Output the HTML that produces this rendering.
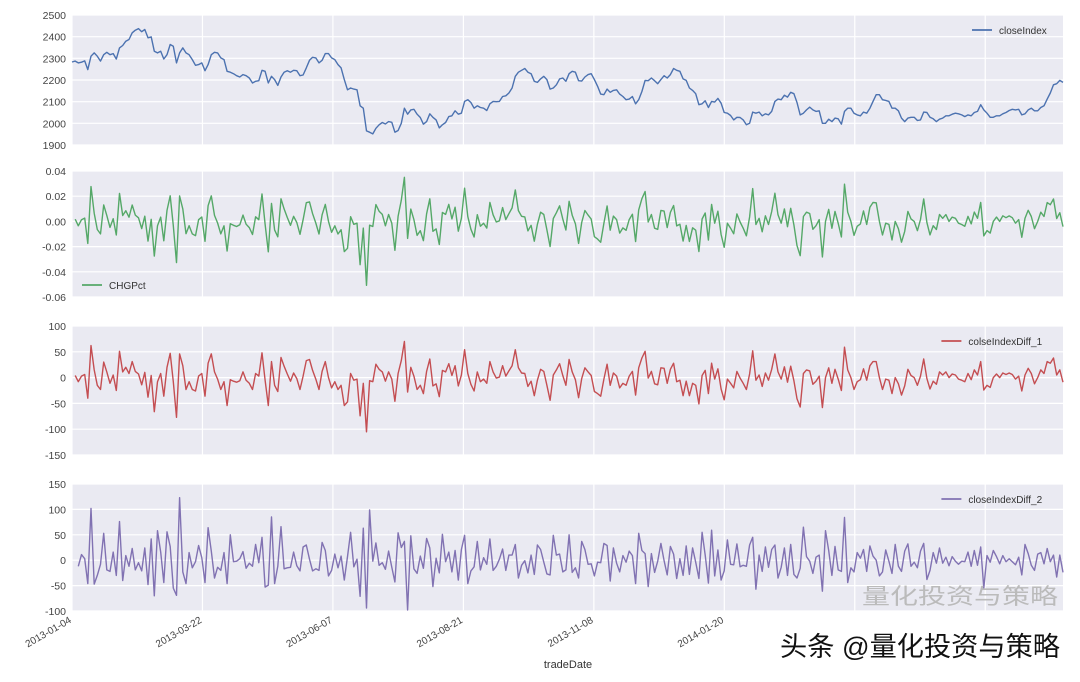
<!DOCTYPE html>
<html><head><meta charset="utf-8"><style>
body{margin:0;background:#fff;width:1080px;height:677px;overflow:hidden;font-family:"Liberation Sans","Noto Sans CJK SC",sans-serif}
svg text{font-family:"Liberation Sans","Noto Sans CJK SC",sans-serif}
</style></head><body>
<svg id="chart" width="1080" height="677" xmlns="http://www.w3.org/2000/svg"></svg>
<script>
const closeIndex=[2283,2287,2279,2282,2288,2248,2310,2325,2310,2287,2317,2328,2317,2322,2297,2348,2359,2379,2387,2418,2430,2437,2423,2433,2395,2399,2333,2325,2333,2297,2317,2364,2356,2279,2325,2348,2325,2317,2294,2268,2271,2279,2243,2271,2317,2328,2325,2302,2294,2240,2236,2229,2220,2214,2225,2220,2209,2186,2194,2197,2245,2240,2186,2217,2202,2175,2214,2236,2243,2236,2245,2243,2220,2223,2256,2291,2305,2302,2279,2291,2322,2322,2302,2294,2271,2256,2202,2155,2163,2158,2155,2081,2070,1965,1959,1951,1977,1993,2004,1997,2008,2005,1959,1967,2000,2070,2042,2062,2065,2042,2027,1996,2008,2044,2028,2016,1979,1993,2004,2031,2035,2058,2042,2047,2101,2109,2096,2070,2081,2073,2070,2059,2090,2101,2100,2101,2124,2127,2140,2163,2217,2236,2245,2253,2236,2229,2194,2189,2205,2217,2202,2158,2163,2178,2205,2209,2194,2229,2240,2236,2197,2195,2214,2225,
2229,2202,2171,2135,2132,2158,2143,2152,2155,2135,2124,2109,2112,2124,2090,2109,2147,2198,2197,2209,2197,2183,2202,2220,2209,2225,2253,2245,2240,2205,2198,2163,2152,2137,2086,2090,2104,2073,2101,2098,2115,2093,2050,2047,2036,2016,2028,2027,2016,1993,2000,2052,2047,2052,2035,2044,2039,2055,2101,2112,2109,2130,2121,2143,2137,2096,2039,2047,2062,2075,2062,2055,2058,2000,2000,2019,2008,2024,2021,1996,2055,2070,2070,2047,2039,2035,2052,2047,2070,2101,2132,2132,2109,2106,2101,2070,2070,2058,2024,2008,2024,2028,2028,2013,2016,2052,2050,2028,2021,2008,2019,2024,2035,2035,2042,2047,2044,2039,2031,2039,2035,2050,2055,2086,2062,2047,2028,2028,2035,2035,2044,2050,2059,2065,2062,2065,2039,2044,2062,2070,2058,2058,2073,2081,2112,2140,2178,2183,2198,2189];
const chgPct=closeIndex.map((v,i)=>i===0?null:(v-closeIndex[i-1])/closeIndex[i-1]);
const diff1=closeIndex.map((v,i)=>i===0?null:v-closeIndex[i-1]);
const diff2=diff1.map((v,i)=>i<2?null:v-diff1[i-1]);
const xTickLabels=["2013-01-04","2013-03-22","2013-06-07","2013-08-21","2013-11-08","2014-01-20","",""];
const xTickDays=[0,52,104,156,208,260,312,364];
const totalDays=395;
const ticks1=[1900,2000,2100,2200,2300,2400,2500];
const ticks2=[-0.06,-0.04,-0.02,0.00,0.02,0.04];
const ticks3=[-150,-100,-50,0,50,100];
const ticks4=[-100,-50,0,50,100,150];

const svg=document.getElementById('chart');
const NS='http://www.w3.org/2000/svg';
const X0=72,X1=1063;
function mk(t,a,p){const e=document.createElementNS(NS,t);for(const k in a)e.setAttribute(k,a[k]);(p||svg).appendChild(e);return e;}
function xDay(d){return X0+(d/totalDays)*(X1-X0);}
function xIdx(i){return xDay(i/(closeIndex.length-1)*totalDays);}
const panels=[
 {name:'close-index',top:15,bot:145,ticks:ticks1,data:closeIndex,color:'#4C72B0',label:'closeIndex',fmt:v=>v,legend:'tr'},
 {name:'chg-pct',top:171,bot:297,ticks:ticks2,data:chgPct,color:'#55A868',label:'CHGPct',fmt:v=>v.toFixed(2),legend:'bl'},
 {name:'close-index-diff-1',top:326,bot:455,ticks:ticks3,data:diff1,color:'#C44E52',label:'colseIndexDiff_1',fmt:v=>v,legend:'tr'},
 {name:'close-index-diff-2',top:484,bot:611,ticks:ticks4,data:diff2,color:'#8172B2',label:'closeIndexDiff_2',fmt:v=>v,legend:'tr'}
];
panels.forEach(p=>{
 const g=mk('g',{});
 
 
 const lo=p.ticks[0],hi=p.ticks[p.ticks.length-1];
 const y=v=>p.bot-(v-lo)/(hi-lo)*(p.bot-p.top);
 const bg=mk('rect',{x:X0,y:p.top,width:X1-X0,height:p.bot-p.top,fill:'#EAEAF2'},g);
 
 
 p.ticks.forEach(t=>{
  const l=mk('line',{x1:X0,x2:X1,y1:y(t),y2:y(t),stroke:'#fff','stroke-width':1.2},g);
  
  
  const tx=mk('text',{x:X0-6,y:y(t)+4,'text-anchor':'end','font-size':10.5,fill:'#444'},g);
  tx.textContent=p.fmt(t);
  
  
 });
 xTickDays.forEach(d=>{
  const l=mk('line',{x1:xDay(d),x2:xDay(d),y1:p.top,y2:p.bot,stroke:'#fff','stroke-width':1.2},g);
  
  
 });
 let dstr='';
 p.data.forEach((v,i)=>{if(v===null)return;const yy=Math.max(p.top,Math.min(p.bot,y(v)));dstr+=(dstr?'L':'M')+xIdx(i).toFixed(1)+','+yy.toFixed(1);});
 const path=mk('path',{d:dstr,fill:'none',stroke:p.color,'stroke-width':1.4,'stroke-linejoin':'round'},g);
 
 
 const lg=mk('g',{},g);
 
 
 let lx,ly;
 if(p.legend==='tr'){const w=p.label.length*5.1;lx=X1-10-w-30;ly=p.top+15;}else{lx=X0+10;ly=p.bot-12;}
 mk('line',{x1:lx,x2:lx+20,y1:ly,y2:ly,stroke:p.color,'stroke-width':1.8},lg);
 const lt=mk('text',{x:lx+27,y:ly+4,'font-size':10,fill:'#333'},lg);
 lt.textContent=p.label;
});
xTickLabels.forEach((s,k)=>{
 if(!s)return;
 const x=xDay(xTickDays[k]);
 const t=mk('text',{x:x,y:622,'text-anchor':'end','font-size':10,fill:'#444',transform:`rotate(-30 ${x} 622)`});
 t.textContent=s;
 
 
});
const xt=mk('text',{x:568,y:668,'text-anchor':'middle','font-size':11,fill:'#333'});
xt.textContent='tradeDate';


const wm1=mk('text',{x:862,y:604,'font-size':22,fill:'#bbb',textLength:196,lengthAdjust:'spacingAndGlyphs'});
wm1.textContent='量化投资与策略';


const wm2=mk('text',{x:780,y:656,'font-size':27,fill:'#111',textLength:280,lengthAdjust:'spacingAndGlyphs'});
wm2.textContent='头条 @量化投资与策略';


</script>
</body></html>
